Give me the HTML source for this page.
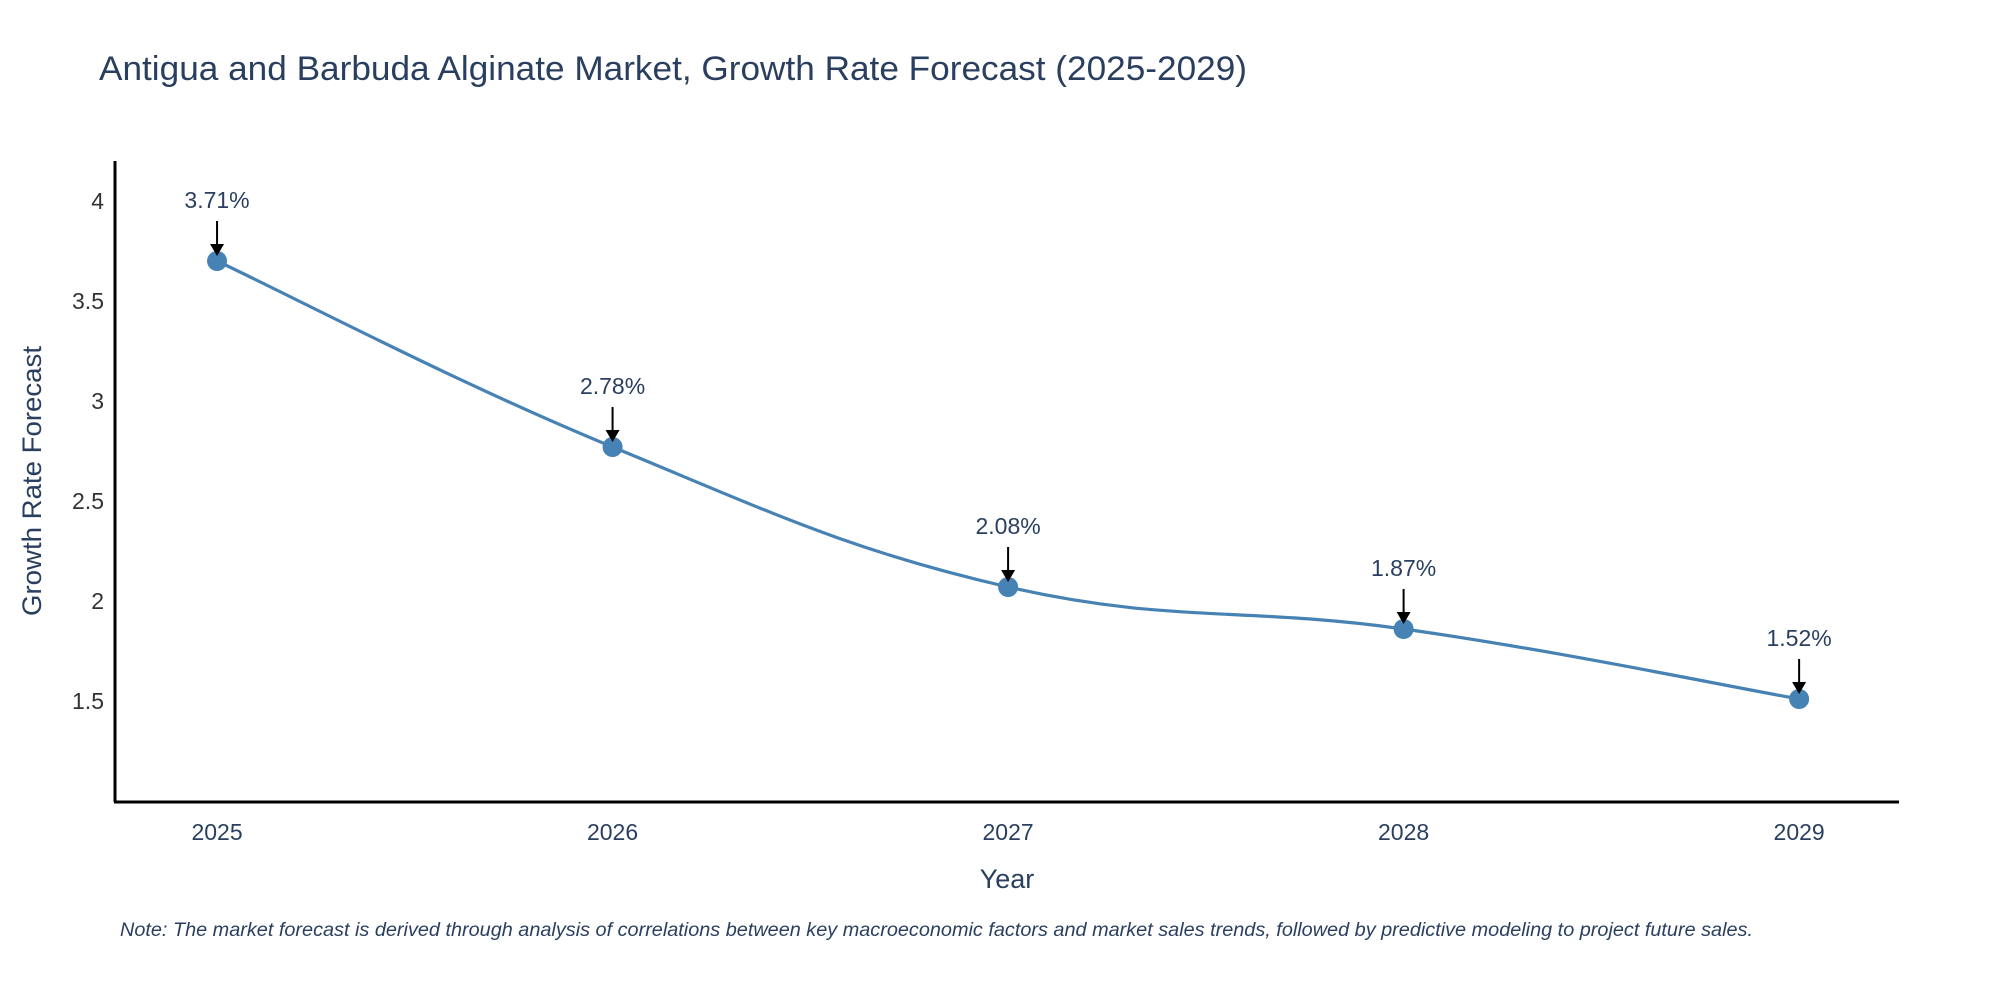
<!DOCTYPE html>
<html><head><meta charset="utf-8"><style>
html,body{margin:0;padding:0;background:#fff;}
svg{display:block;font-family:"Liberation Sans",sans-serif;}
</style></head><body>
<svg id="chart" width="2000" height="1000" viewBox="0 0 2000 1000">
<text x="99" y="80" font-size="34" fill="#2a3f5f" textLength="1148" lengthAdjust="spacingAndGlyphs">Antigua and Barbuda Alginate Market, Growth Rate Forecast (2025-2029)</text>
<g id="yticks"></g><g id="xticks"></g>
<path id="line" fill="none" stroke="#4682b4" stroke-width="3.2"/>
<g id="points"></g><g id="annots"></g>
<line x1="115" y1="161" x2="115" y2="802" stroke="#000" stroke-width="3"/>
<line x1="114" y1="802" x2="1899" y2="802" stroke="#000" stroke-width="3"/>
<text x="1007" y="888" font-size="27" fill="#2a3f5f" text-anchor="middle">Year</text>
<text transform="translate(34,481) rotate(-90)" font-size="27" fill="#2a3f5f" text-anchor="middle" dominant-baseline="middle" textLength="270" lengthAdjust="spacingAndGlyphs">Growth Rate Forecast</text>
<text x="120" y="936" font-size="19" font-style="italic" fill="#2a3f5f" textLength="1633" lengthAdjust="spacingAndGlyphs">Note: The market forecast is derived through analysis of correlations between key macroeconomic factors and market sales trends, followed by predictive modeling to project future sales.</text>
</svg>
<script>
const years = [2025, 2026, 2027, 2028, 2029];
const growth = [3.71, 2.78, 2.08, 1.87, 1.52];
const labels = ["3.71%", "2.78%", "2.08%", "1.87%", "1.52%"];
const yTicks = [1.5, 2, 2.5, 3, 3.5, 4];
const NS = "http://www.w3.org/2000/svg";
const X0=115, X1=1898, Y0=161, Y1=801;
const xMin=2024.742, xMax=2029.25, yMin=1.01, yMax=4.21;
const sx = v => X0 + (v - xMin) / (xMax - xMin) * (X1 - X0);
const sy = v => Y1 - (v - yMin) / (yMax - yMin) * (Y1 - Y0);
function mk(tag, attrs, parent, txt){const e=document.createElementNS(NS,tag);for(const k in attrs)e.setAttribute(k,attrs[k]);if(txt!=null)e.textContent=txt;document.getElementById(parent).appendChild(e);return e;}
yTicks.forEach(t=>{
  const e=mk("text",{x:X0-11,y:sy(t),"font-size":23,fill:"#333","text-anchor":"end","dominant-baseline":"middle"},"yticks",String(t));
  
  
});
years.forEach(y=>{
  const e=mk("text",{x:sx(y),y:Y1+33,"font-size":23,fill:"#2a3f5f","text-anchor":"middle","dominant-baseline":"middle"},"xticks",String(y));
  
  
});
const pts = years.map((y,i)=>[sx(y), sy(growth[i])]);
let d = "M"+pts[0][0]+","+pts[0][1];
const s=0.4;
for(let i=0;i<pts.length-1;i++){
  const p0=pts[i-1]||pts[i], p1=pts[i], p2=pts[i+1], p3=pts[i+2]||pts[i+1];
  const c1=[p1[0]+(p2[0]-p0[0])*s/2, p1[1]+(p2[1]-p0[1])*s/2];
  const c2=[p2[0]-(p3[0]-p1[0])*s/2, p2[1]-(p3[1]-p1[1])*s/2];
  d+=" C"+c1+" "+c2+" "+p2;
}
document.getElementById("line").setAttribute("d", d);
pts.forEach((p,i)=>{
  const c=mk("circle",{cx:p[0],cy:p[1],r:10,fill:"#4682b4"},"points");
  
  
  const l=mk("line",{x1:p[0],y1:p[1]-40,x2:p[0],y2:p[1]-14,stroke:"#000","stroke-width":2},"annots");
  
  
  const h=mk("path",{d:`M${p[0]-7},${p[1]-17} L${p[0]+7},${p[1]-17} L${p[0]},${p[1]-5} Z`,fill:"#000"},"annots");
  
  
  const t=mk("text",{x:p[0],y:p[1]-59,"font-size":23,fill:"#2a3f5f","text-anchor":"middle","dominant-baseline":"middle"},"annots",labels[i]);
  
  
});
</script>
</body></html>
